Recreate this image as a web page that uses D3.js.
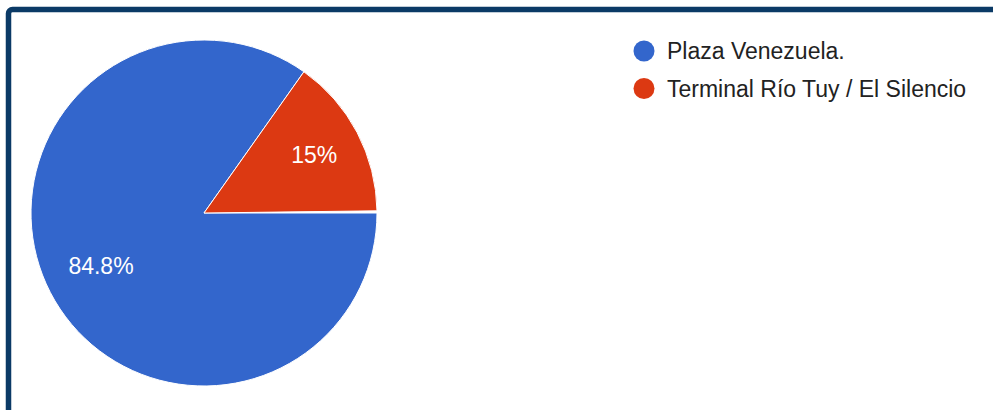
<!DOCTYPE html>
<html>
<head>
<meta charset="utf-8">
<script src="https://cdn.jsdelivr.net/npm/d3@7"></script>
<style>
  html, body { margin: 0; padding: 0; background: #fff; }
  svg { display: block; }
</style>
</head>
<body>
<svg id="chart" width="993" height="410"></svg>
<script>
// Answer shares (percent) and legend labels
const categories = ["Plaza Venezuela.", "Terminal Río Tuy / El Silencio"];
const shares = [84.8, 15];
const colors = ["#3366cc", "#dc3912"];

const svg = d3.select("#chart");
const font = "Arial, 'Liberation Sans', sans-serif";

// Card frame
svg.append("rect")
  .attr("x", 8.5).attr("y", 9.5)
  .attr("width", 1010).attr("height", 430)
  .attr("rx", 4).attr("ry", 4)
  .attr("fill", "#fff")
  .attr("stroke", "#0b3a66")
  .attr("stroke-width", 5.5);

const cx = 204, cy = 213, r = 173;
const total = d3.sum(shares);
const start = Math.PI / 2;

const pie = d3.pie()
  .sort(null)
  .value(d => d)
  .startAngle(start)
  .endAngle(start + 2 * Math.PI * (total / 100));

const arc = d3.arc().innerRadius(0).outerRadius(r);

const g = svg.append("g").attr("transform", `translate(${cx},${cy})`);
const arcs = pie(shares);

g.selectAll("path.slice")
  .data(arcs)
  .join("path")
  .attr("class", "slice")
  .attr("d", arc)
  .attr("fill", (d, i) => colors[i])
  .attr("stroke", "#fff")
  .attr("stroke-width", 1);

// Percent labels: keep each label's outer edge at a fixed fraction of the radius
const edge = r * 0.855;
g.selectAll("text.pct")
  .data(arcs)
  .join("text")
  .attr("class", "pct")
  .attr("text-anchor", "middle")
  .attr("dominant-baseline", "central")
  .attr("font-family", font)
  .attr("font-size", 23)
  .attr("fill", "#fff")
  .text(d => d3.format("~")(d.data) + "%")
  .each(function (d) {
    const box = this.getBBox();
    const mid = (d.startAngle + d.endAngle) / 2;
    const sx = Math.sin(mid), cy2 = -Math.cos(mid);
    const extent = (box.width / 2) * Math.abs(sx) + (box.height / 2) * 0.5 * Math.abs(cy2);
    const dist = edge - extent;
    d3.select(this).attr("transform", `translate(${sx * dist},${cy2 * dist})`);
  });

// Legend
const legend = svg.append("g").attr("transform", "translate(644,51)");
const rows = legend.selectAll("g.item")
  .data(categories)
  .join("g")
  .attr("class", "item")
  .attr("transform", (d, i) => `translate(0,${i * 37.5})`);

rows.append("circle")
  .attr("r", 10.5)
  .attr("fill", (d, i) => colors[i]);

rows.append("text")
  .attr("x", 23)
  .attr("y", 0)
  .attr("dominant-baseline", "central")
  .attr("font-family", font)
  .attr("font-size", 23)
  .attr("fill", "#222")
  .text(d => d);
</script>
</body>
</html>
